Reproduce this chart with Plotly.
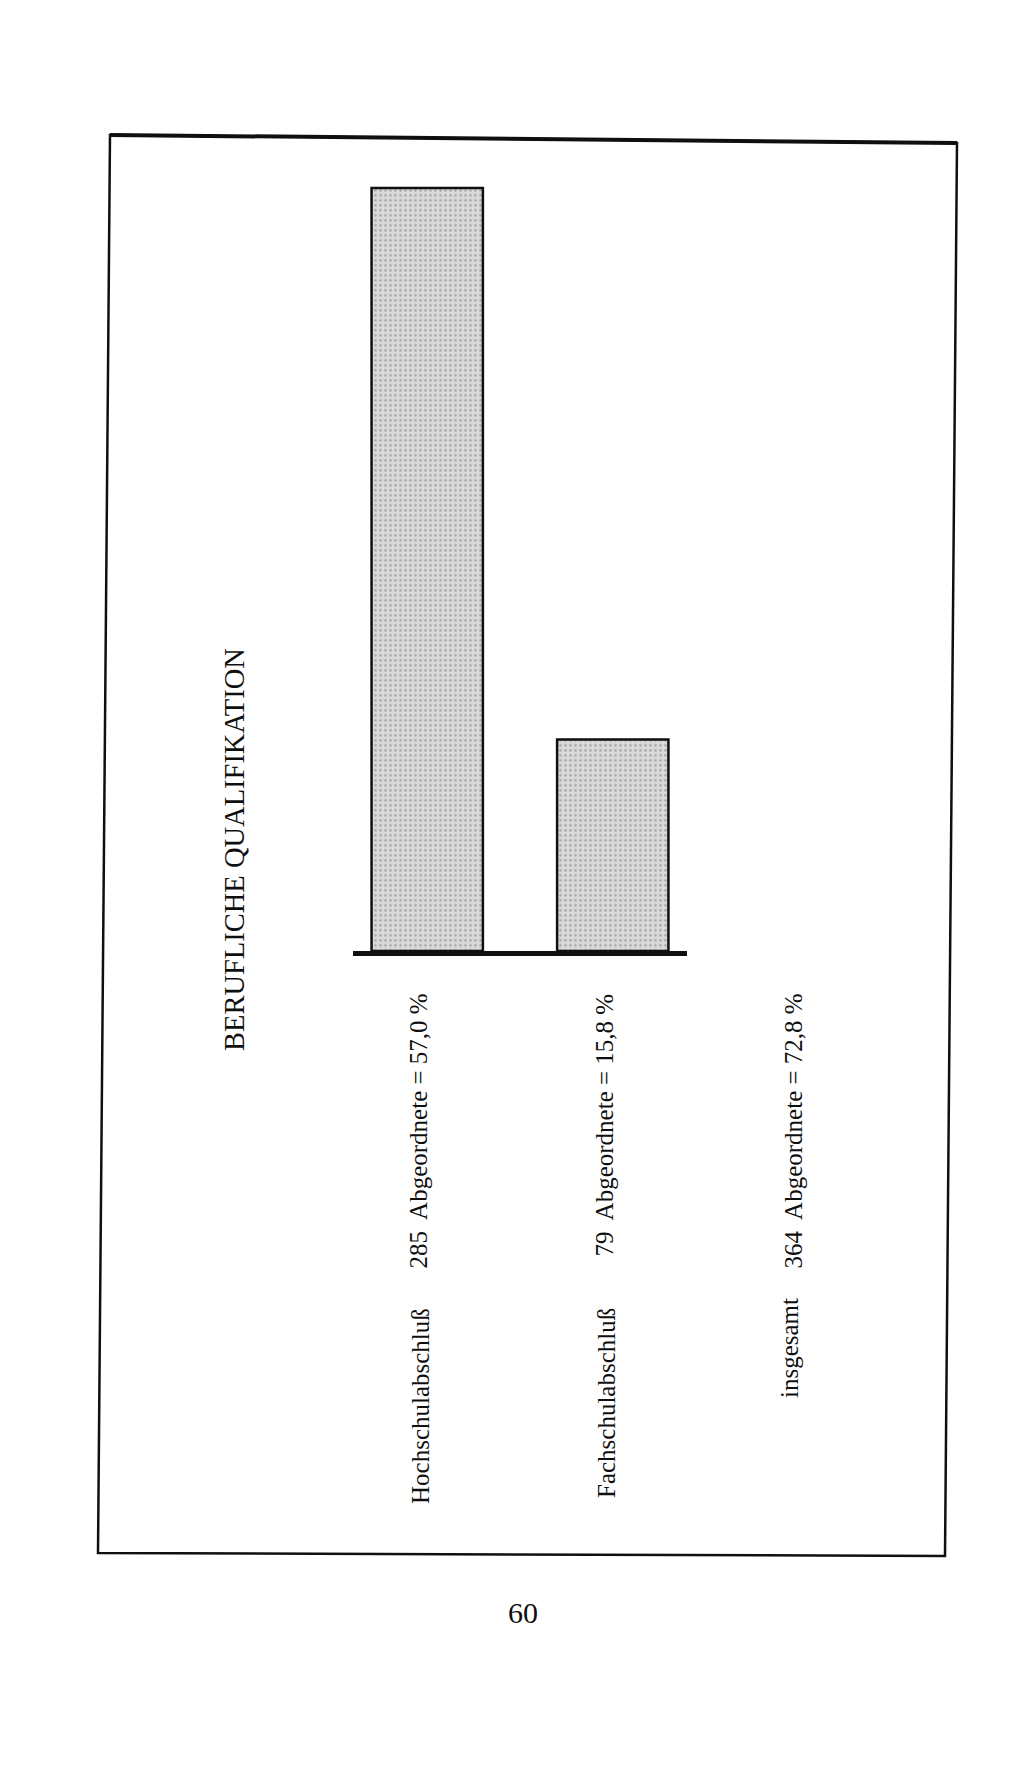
import plotly.graph_objects as go

# Daten (Anzahl Abgeordnete je Abschluss)
categories = ['Hochschulabschluß', 'Fachschulabschluß']
deputies = [285, 79]
shares = ['57,0', '15,8']
total_label = 'insgesamt'
total_deputies = 364
total_share = '72,8'
page_number = '60'

W, H = 1024, 1766
OFF = 8  # body margin of the html page
FW, FH = W - 2 * OFF, H - 2 * OFF
ink = '#0f0f0f'
serif = 'Liberation Serif, Times New Roman, serif'


def px_x(x):
    return (x - OFF) / FW


def px_y(y):
    return 1 - (y - OFF) / FH


fig = go.Figure()

fig.add_trace(go.Bar(
    x=list(range(len(categories))), y=deputies, width=0.6,
    marker=dict(
        color='#d4d4d4',
        line=dict(color=ink, width=2.5),
        pattern=dict(shape='.', fgcolor='#727272', bgcolor='#dadada',
                     size=5, solidity=0.22),
    ),
    hoverinfo='skip', showlegend=False,
))

# unsichtbare Achsen in Seitenpixeln fuer Rahmen und Texte
fig.add_trace(go.Scatter(x=[OFF], y=[OFF], xaxis='x2', yaxis='y2',
                         mode='markers', marker=dict(opacity=0),
                         hoverinfo='skip', showlegend=False))

fig.update_layout(
    width=FW, height=FH,
    margin=dict(l=0, r=0, t=0, b=0),
    paper_bgcolor='white', plot_bgcolor='rgba(0,0,0,0)',
    xaxis=dict(domain=[px_x(353), px_x(687)], range=[-0.4, 1.4],
               showline=True, linecolor=ink, linewidth=5,
               showgrid=False, zeroline=False, showticklabels=False, ticks=''),
    yaxis=dict(domain=[px_y(951), px_y(147.8)], range=[0, 300],
               showline=False, showgrid=False, zeroline=False,
               showticklabels=False, ticks=''),
    xaxis2=dict(domain=[0, 1], range=[OFF, OFF + FW], visible=False, anchor='y2'),
    yaxis2=dict(domain=[0, 1], range=[OFF + FH, OFF], visible=False, anchor='x2'),
)

# Rahmen (leicht schief gescannt)
fig.add_shape(type='path', xref='x2', yref='y2',
              path='M 110 135 L 957 143 L 945 1556 L 98 1553 Z',
              line=dict(color=ink, width=2.5))
fig.add_shape(type='line', xref='x2', yref='y2', x0=110, y0=135, x1=957, y1=143,
              line=dict(color=ink, width=4))


def label(text, x, y, size=25, anchor='top'):
    fig.add_annotation(text=text, xref='x2', yref='y2', x=x, y=y,
                       textangle=-90, showarrow=False, xanchor='center',
                       yanchor=anchor, font=dict(family=serif, size=size, color=ink))


label('BERUFLICHE QUALIFIKATION', 234, 850, size=28.5, anchor='middle')

cols = [420, 606]
for name, n, p, cx in zip(categories, deputies, shares, cols):
    label(name, cx, 1306)
    label(f'{n}  Abgeordnete = {p} %', cx - 2, 992)

label(total_label, 789, 1296)
label(f'{total_deputies}  Abgeordnete = {total_share} %', 793, 992)

fig.add_annotation(text=page_number, xref='x2', yref='y2', x=523, y=1612,
                   showarrow=False, xanchor='center', yanchor='middle',
                   font=dict(family=serif, size=30, color=ink))

fig.write_html('out.html')
